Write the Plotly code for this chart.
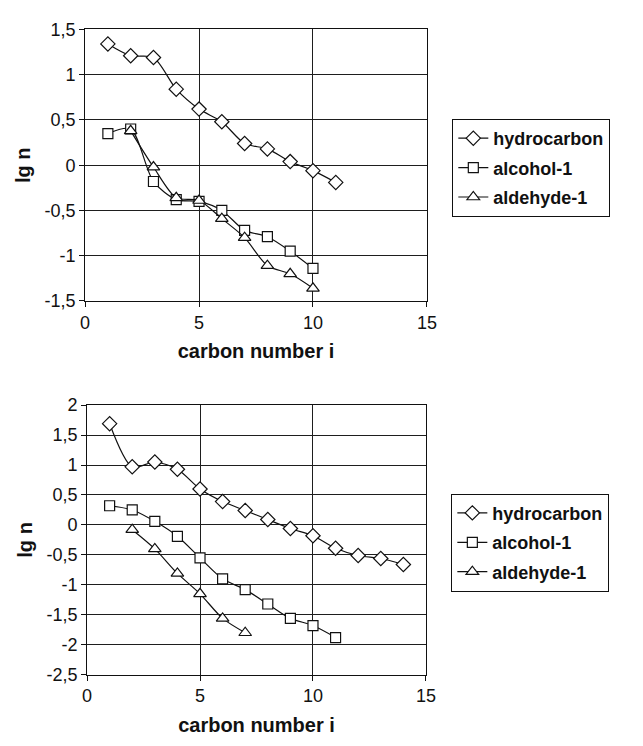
import plotly.graph_objects as go

# ---------------- data ----------------
top_x_hc = [1, 2, 3, 4, 5, 6, 7, 8, 9, 10, 11]
top_hydrocarbon = [1.34, 1.21, 1.19, 0.84, 0.62, 0.48, 0.24, 0.18, 0.04, -0.06, -0.19]
top_x_alc = [1, 2, 3, 4, 5, 6, 7, 8, 9, 10]
top_alcohol = [0.35, 0.40, -0.18, -0.38, -0.40, -0.50, -0.72, -0.79, -0.95, -1.14]
top_x_ald = [2, 3, 4, 5, 6, 7, 8, 9, 10]
top_aldehyde = [0.38, -0.02, -0.36, -0.39, -0.59, -0.80, -1.11, -1.20, -1.36]

bot_x_hc = [1, 2, 3, 4, 5, 6, 7, 8, 9, 10, 11, 12, 13, 14]
bot_hydrocarbon = [1.69, 0.97, 1.05, 0.93, 0.60, 0.39, 0.24, 0.09, -0.06, -0.18, -0.39, -0.51, -0.56, -0.66]
bot_x_alc = [1, 2, 3, 4, 5, 6, 7, 8, 9, 10, 11]
bot_alcohol = [0.32, 0.25, 0.06, -0.19, -0.55, -0.90, -1.08, -1.32, -1.56, -1.68, -1.88]
bot_x_ald = [2, 3, 4, 5, 6, 7]
bot_aldehyde = [-0.08, -0.40, -0.81, -1.15, -1.56, -1.80]

series_names = ["hydrocarbon", "alcohol-1", "aldehyde-1"]

x_tick_vals = [0, 5, 10, 15]
x_tick_text = ["0", "5", "10", "15"]
top_y_tick_vals = [-1.5, -1, -0.5, 0, 0.5, 1, 1.5]
top_y_tick_text = ["-1,5", "-1", "-0,5", "0", "0,5", "1", "1,5"]
bot_y_tick_vals = [-2.5, -2, -1.5, -1, -0.5, 0, 0.5, 1, 1.5, 2]
bot_y_tick_text = ["-2,5", "-2", "-1,5", "-1", "-0,5", "0", "0,5", "1", "1,5", "2"]

# ---------------- styling ----------------
W, H = 643, 746
FONT = "Arial, Liberation Sans, sans-serif"
INK = "#111111"
GRID = "#1e1e1e"
symbols = ["diamond", "square", "triangle-up"]
msizes = [11, 10, 11]

fig = go.Figure()

top_sets = [(top_x_hc, top_hydrocarbon), (top_x_alc, top_alcohol), (top_x_ald, top_aldehyde)]
bot_sets = [(bot_x_hc, bot_hydrocarbon), (bot_x_alc, bot_alcohol), (bot_x_ald, bot_aldehyde)]

def add_series(sets, xa, ya, leg, grp):
    for i, (xs, ys) in enumerate(sets):
        fig.add_trace(go.Scatter(
            x=xs, y=ys, name=series_names[i], mode="lines+markers",
            line=dict(color=INK, width=1.2, shape="spline", smoothing=0.8),
            marker=dict(symbol=symbols[i], size=msizes[i], color="white",
                        line=dict(color=INK, width=1.2)),
            xaxis=xa, yaxis=ya, legend=leg, legendgroup="%s%d" % (grp, i),
        ))

add_series(top_sets, "x", "y", "legend", "t")
add_series(bot_sets, "x2", "y2", "legend2", "b")

def xaxis_cfg(domain, anchor):
    return dict(
        domain=domain, anchor=anchor, range=[0, 15],
        tickvals=x_tick_vals, ticktext=x_tick_text,
        ticks="outside", ticklen=5, tickcolor=INK, tickwidth=1,
        showline=True, linecolor=INK, linewidth=1, mirror=True,
        showgrid=True, gridcolor=GRID, gridwidth=1, zeroline=False,
        tickfont=dict(family=FONT, size=18, color=INK),
        title=dict(text="carbon number i", standoff=12,
                   font=dict(family=FONT, size=20, color=INK, weight="bold")),
    )

def yaxis_cfg(domain, anchor, rng, vals, text):
    return dict(
        domain=domain, anchor=anchor, range=rng,
        tickvals=vals, ticktext=text,
        ticks="outside", ticklen=5, tickcolor=INK, tickwidth=1,
        showline=True, linecolor=INK, linewidth=1, mirror=True,
        showgrid=True, gridcolor=GRID, gridwidth=1, zeroline=False,
        tickfont=dict(family=FONT, size=18, color=INK),
        title=dict(text="lg n", standoff=8,
                   font=dict(family=FONT, size=20, color=INK, weight="bold")),
    )

legend_common = dict(
    bordercolor=INK, borderwidth=1, bgcolor="white",
    font=dict(family=FONT, size=18, color=INK, weight="bold"),
    xanchor="left", yanchor="top", tracegroupgap=3, itemwidth=30,
)

fig.update_layout(
    width=W, height=H,
    margin=dict(l=0, r=0, t=0, b=0),
    paper_bgcolor="white", plot_bgcolor="white",
    showlegend=True,
    xaxis=xaxis_cfg([82 / W, 432 / W], "y"),
    yaxis=yaxis_cfg([1 - 299 / H, 1 - 20 / H], "x", [-1.5, 1.5], top_y_tick_vals, top_y_tick_text),
    xaxis2=xaxis_cfg([84 / W, 431 / W], "y2"),
    yaxis2=yaxis_cfg([1 - 683 / H, 1 - 406 / H], "x2", [-2.5, 2], bot_y_tick_vals, bot_y_tick_text),
    legend=dict(x=458 / W, y=1 - 112 / H, **legend_common),
    legend2=dict(x=457 / W, y=1 - 497 / H, **legend_common),
)

fig.write_html("out.html")
